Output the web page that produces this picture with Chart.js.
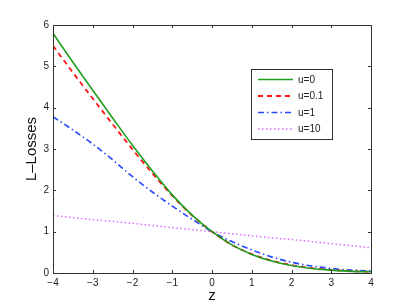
<!DOCTYPE html>
<html>
<head>
<meta charset="UTF-8">
<script src="https://cdn.jsdelivr.net/npm/chart.js@4.4.0/dist/chart.umd.min.js"></script>
<style>
  body { margin: 0; background: #fff; }
  #wrap { width: 409px; height: 305px; }
</style>
</head>
<body>
<div id="wrap"><canvas id="c" width="409" height="305"></canvas></div>
<script>
// z values and losses
const zValues = [-4, -3.5, -3, -2.5, -2, -1.5, -1, -0.5, 0, 0.5, 1, 1.5, 2, 2.5, 3, 3.5, 4];
const lossU0 = [5.8, 5.1, 4.42, 3.75, 3.09, 2.47, 1.89, 1.4, 1.0, 0.68, 0.45, 0.29, 0.18, 0.11, 0.07, 0.04, 0.03];
const lossU01 = [5.5, 4.85, 4.22, 3.6, 2.99, 2.41, 1.87, 1.39, 1.0, 0.68, 0.46, 0.3, 0.19, 0.12, 0.075, 0.045, 0.03];
const lossU1 = [3.78, 3.46, 3.12, 2.74, 2.33, 1.96, 1.62, 1.3, 1.0, 0.76, 0.56, 0.39, 0.26, 0.17, 0.11, 0.07, 0.05];
const lossU10 = [1.39, 1.34, 1.29, 1.25, 1.2, 1.15, 1.1, 1.05, 1.0, 0.95, 0.9, 0.85, 0.81, 0.76, 0.71, 0.66, 0.61];
const seriesLabels = ['u=0', 'u=0.1', 'u=1', 'u=10'];
const xTicks = [-4, -3, -2, -1, 0, 1, 2, 3, 4];
const yTicks = [0, 1, 2, 3, 4, 5, 6];

const FONT = 'Liberation Sans, Arial, Helvetica, sans-serif';

function pts(ys) {
  return zValues.map((z, i) => ({ x: z, y: ys[i] }));
}

// frame + inward ticks, MATLAB style
const framePlugin = {
  id: 'frame',
  afterDatasetsDraw(chart) {
    const { ctx, chartArea: a } = chart;
    const xs = chart.scales.x, ys = chart.scales.y;
    ctx.save();
    ctx.strokeStyle = '#333';
    ctx.lineWidth = 1;
    ctx.strokeRect(a.left + 0.5, a.top + 0.5, a.right - a.left, a.bottom - a.top);
    ctx.beginPath();
    xTicks.forEach(v => {
      const px = Math.round(xs.getPixelForValue(v)) + 0.5;
      ctx.moveTo(px, a.bottom); ctx.lineTo(px, a.bottom - 3);
      ctx.moveTo(px, a.top); ctx.lineTo(px, a.top + 3);
    });
    yTicks.forEach(v => {
      const py = Math.round(ys.getPixelForValue(v)) + 0.5;
      ctx.moveTo(a.left, py); ctx.lineTo(a.left + 3, py);
      ctx.moveTo(a.right, py); ctx.lineTo(a.right - 3, py);
    });
    ctx.stroke();
    ctx.restore();
  }
};

// legend box inside the axes
const legendPlugin = {
  id: 'boxLegend',
  afterDatasetsDraw(chart) {
    const { ctx } = chart;
    const bx = 251, by = 69, bw = 81, bh = 70;
    ctx.save();
    ctx.fillStyle = '#fff';
    ctx.fillRect(bx, by, bw, bh);
    ctx.strokeStyle = '#333';
    ctx.lineWidth = 1;
    ctx.strokeRect(bx + 0.5, by + 0.5, bw, bh);
    chart.data.datasets.forEach((ds, i) => {
      const y = 79.5 + i * 16.5;
      ctx.strokeStyle = ds.borderColor;
      ctx.lineWidth = ds.borderWidth;
      ctx.setLineDash(ds.borderDash || []);
      ctx.beginPath();
      ctx.moveTo(258, y);
      ctx.lineTo(293, y);
      ctx.stroke();
      ctx.setLineDash([]);
      ctx.fillStyle = '#222';
      ctx.font = '10px ' + FONT;
      ctx.textBaseline = 'middle';
      ctx.fillText(ds.label, 298, y + 0.5);
    });
    ctx.restore();
  }
};

new Chart(document.getElementById('c'), {
  type: 'line',
  data: {
    datasets: [
      { label: seriesLabels[0], data: pts(lossU0), borderColor: '#1f9e1f', borderWidth: 1.6 },
      { label: seriesLabels[1], data: pts(lossU01), borderColor: '#ff1414', borderWidth: 1.8, borderDash: [5, 4] },
      { label: seriesLabels[2], data: pts(lossU1), borderColor: '#2648ff', borderWidth: 1.6, borderDash: [6, 3, 1.5, 3] },
      { label: seriesLabels[3], data: pts(lossU10), borderColor: '#dd66ff', borderWidth: 1.5, borderDash: [1.5, 2.5] }
    ]
  },
  options: {
    responsive: false,
    animation: false,
    events: [],
    layout: { padding: { left: 0, top: 25, right: 38, bottom: 0 } },
    elements: {
      point: { radius: 0 },
      line: { cubicInterpolationMode: 'monotone', fill: false }
    },
    plugins: {
      legend: { display: false },
      tooltip: { enabled: false }
    },
    scales: {
      x: {
        type: 'linear',
        min: -4,
        max: 4,
        afterFit(s) { s.height = 32; },
        afterBuildTicks(s) { s.ticks = xTicks.map(v => ({ value: v })); },
        grid: { display: false, drawTicks: false },
        border: { display: false },
        ticks: {
          color: '#222',
          padding: 4,
          maxRotation: 0,
          font: { family: FONT, size: 10 },
          callback: v => String(v).replace('-', '\u2212')
        },
        title: {
          display: true,
          text: 'z',
          color: '#111',
          font: { family: FONT, size: 15 },
          padding: { top: 0, bottom: 0 }
        }
      },
      y: {
        min: 0,
        max: 6,
        afterFit(s) { s.width = 53; },
        afterBuildTicks(s) { s.ticks = yTicks.map(v => ({ value: v })); },
        grid: { display: false, drawTicks: false },
        border: { display: false },
        ticks: {
          color: '#222',
          padding: 4,
          font: { family: FONT, size: 10 }
        },
        title: {
          display: true,
          text: 'L\u2013Losses',
          color: '#111',
          font: { family: FONT, size: 15 },
          padding: { top: 23, bottom: 0 }
        }
      }
    }
  },
  plugins: [framePlugin, legendPlugin]
});
</script>
</body>
</html>
